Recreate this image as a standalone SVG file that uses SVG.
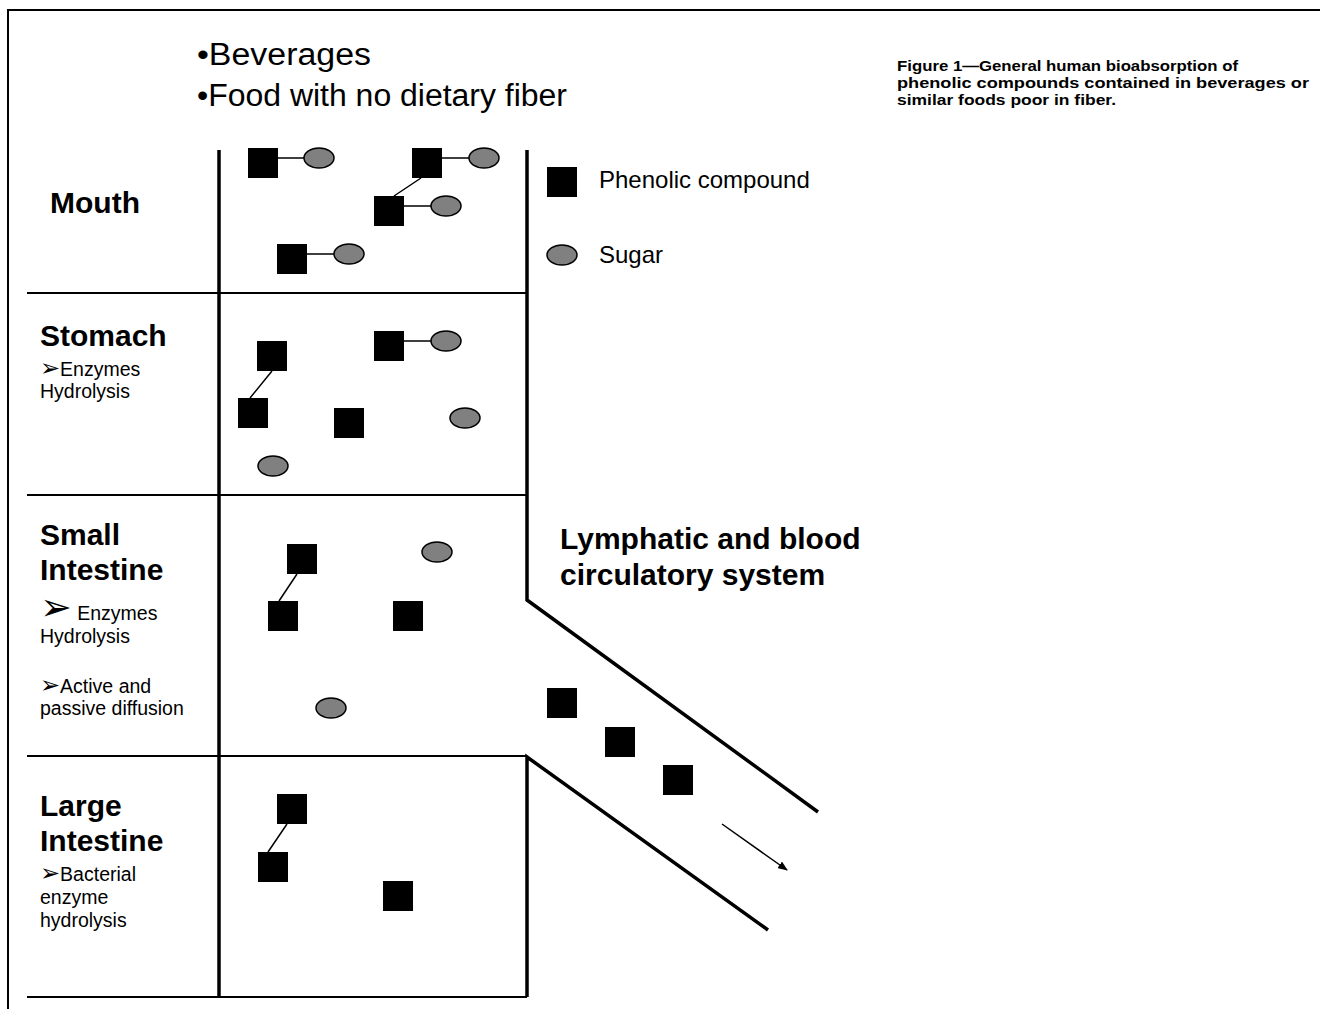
<svg xmlns="http://www.w3.org/2000/svg" width="1320" height="1009" viewBox="0 0 1320 1009">
<style>
.sq{fill:#000}
.sg{fill:#808080;stroke:#000;stroke-width:1.5}
.ln{stroke:#000;stroke-width:1.5;fill:none}
.tube{stroke:#000;stroke-width:3.5;fill:none}
.div{stroke:#000;stroke-width:2;fill:none}
.hd{font-family:"Liberation Sans",Arial,sans-serif;font-weight:bold;font-size:30px;fill:#000}
.sm{font-family:"Liberation Sans",Arial,sans-serif;font-size:19.5px;fill:#000}
.ar{font-family:"DejaVu Sans",sans-serif}
.lg{font-family:"Liberation Sans",Arial,sans-serif;font-size:24px;fill:#000}
.top{font-family:"Liberation Sans",Arial,sans-serif;font-size:31px;fill:#000}
.cap{font-family:"Liberation Sans",Arial,sans-serif;font-weight:bold;font-size:15px;fill:#000}
</style>
<defs>
<marker id="ah" markerWidth="10" markerHeight="8" refX="9" refY="4" orient="auto" markerUnits="userSpaceOnUse">
<path d="M0,0 L10,4 L0,8 Z" fill="#000"/>
</marker>
</defs>
<rect width="1320" height="1009" fill="#fff"/>
<g id="frame">
<path d="M8,1009 V10 H1320" class="div" stroke-width="1.5"/>
</g>
<g id="caption">
<text class="cap" x="897" y="71" textLength="341" lengthAdjust="spacingAndGlyphs">Figure 1—General human bioabsorption of</text>
<text class="cap" x="897" y="88" textLength="412" lengthAdjust="spacingAndGlyphs">phenolic compounds contained in beverages or</text>
<text class="cap" x="897" y="105" textLength="219" lengthAdjust="spacingAndGlyphs">similar foods poor in fiber.</text>
</g>
<g id="intake">
<text class="top" x="197" y="65" textLength="174" lengthAdjust="spacingAndGlyphs">•Beverages</text>
<text class="top" x="197" y="106" textLength="370" lengthAdjust="spacingAndGlyphs">•Food with no dietary fiber</text>
</g>
<g id="connectors">
<path class="tube" d="M219,150 V997"/>
<path class="tube" d="M527,150 V600 L818,812"/>
<path class="tube" d="M768,930 L527,757 V997"/>
<path class="div" d="M27,293 H527 M27,495 H527 M27,756 H527 M27,997 H527"/>
<path class="ln" d="M722,824 L787,870" marker-end="url(#ah)"/>
</g>
<g id="legend">
<rect class="sq" x="547" y="167" width="30" height="30"/>
<text class="lg" x="599" y="188">Phenolic compound</text>
<ellipse class="sg" cx="562" cy="255" rx="15" ry="10"/>
<text class="lg" x="599" y="263">Sugar</text>
</g>
<g id="mouth">
<text class="hd" x="50" y="213">Mouth</text>
<path class="ln" d="M278,158 H304 M442,158 H469 M404,206 H431 M307,254 H334 M421,178 L394,196"/>
<rect class="sq" x="248" y="148" width="30" height="30"/>
<ellipse class="sg" cx="319" cy="158" rx="15" ry="10"/>
<rect class="sq" x="412" y="148" width="30" height="30"/>
<ellipse class="sg" cx="484" cy="158" rx="15" ry="10"/>
<rect class="sq" x="374" y="196" width="30" height="30"/>
<ellipse class="sg" cx="446" cy="206" rx="15" ry="10"/>
<rect class="sq" x="277" y="244" width="30" height="30"/>
<ellipse class="sg" cx="349" cy="254" rx="15" ry="10"/>
</g>
<g id="stomach">
<text class="hd" x="40" y="346">Stomach</text>
<text class="sm" x="40" y="376"><tspan class="ar" font-size="24">➢</tspan>Enzymes</text>
<text class="sm" x="40" y="398">Hydrolysis</text>
<path class="ln" d="M272,371 L250,398 M404,341 H431"/>
<rect class="sq" x="257" y="341" width="30" height="30"/>
<rect class="sq" x="238" y="398" width="30" height="30"/>
<rect class="sq" x="374" y="331" width="30" height="30"/>
<ellipse class="sg" cx="446" cy="341" rx="15" ry="10"/>
<rect class="sq" x="334" y="408" width="30" height="30"/>
<ellipse class="sg" cx="465" cy="418" rx="15" ry="10"/>
<ellipse class="sg" cx="273" cy="466" rx="15" ry="10"/>
</g>
<g id="small-intestine">
<text class="hd" x="40" y="545">Small</text>
<text class="hd" x="40" y="580">Intestine</text>
<text class="sm" x="40" y="620"><tspan class="ar" font-size="38">➢</tspan> Enzymes</text>
<text class="sm" x="40" y="643">Hydrolysis</text>
<text class="sm" x="40" y="693"><tspan class="ar" font-size="24">➢</tspan>Active and</text>
<text class="sm" x="40" y="715">passive diffusion</text>
<path class="ln" d="M297,574 L279,601"/>
<rect class="sq" x="287" y="544" width="30" height="30"/>
<ellipse class="sg" cx="437" cy="552" rx="15" ry="10"/>
<rect class="sq" x="268" y="601" width="30" height="30"/>
<rect class="sq" x="393" y="601" width="30" height="30"/>
<ellipse class="sg" cx="331" cy="708" rx="15" ry="10"/>
</g>
<g id="circulation">
<text class="hd" x="560" y="549">Lymphatic and blood</text>
<text class="hd" x="560" y="585">circulatory system</text>
<rect class="sq" x="547" y="688" width="30" height="30"/>
<rect class="sq" x="605" y="727" width="30" height="30"/>
<rect class="sq" x="663" y="765" width="30" height="30"/>
</g>
<g id="large-intestine">
<text class="hd" x="40" y="816">Large</text>
<text class="hd" x="40" y="851">Intestine</text>
<text class="sm" x="40" y="881"><tspan class="ar" font-size="24">➢</tspan>Bacterial</text>
<text class="sm" x="40" y="904">enzyme</text>
<text class="sm" x="40" y="927">hydrolysis</text>
<path class="ln" d="M287,824 L268,852"/>
<rect class="sq" x="277" y="794" width="30" height="30"/>
<rect class="sq" x="258" y="852" width="30" height="30"/>
<rect class="sq" x="383" y="881" width="30" height="30"/>
</g>
</svg>
